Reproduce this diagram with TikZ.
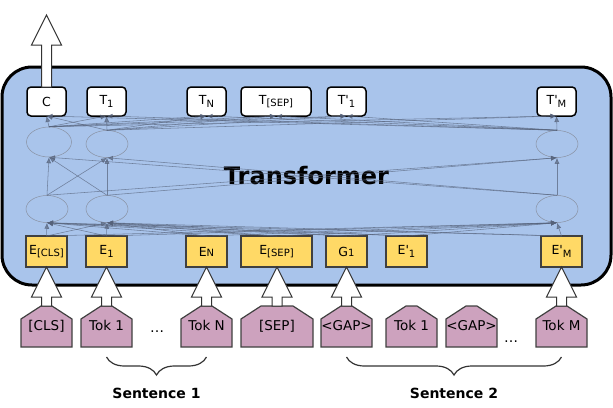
\documentclass[tikz,border=0pt]{standalone}
\usepackage{fontspec}
\setmainfont{DejaVu Sans}
\usetikzlibrary{shapes.geometric,positioning,calc,arrows.meta,backgrounds,decorations.pathreplacing}
\definecolor{tfblue}{HTML}{A9C4EB}
\definecolor{embyellow}{HTML}{FFD966}
\definecolor{tokpink}{HTML}{CDA2BE}
\definecolor{linkgray}{HTML}{56627A}
\newcommand\sub[1]{\raisebox{-0.35ex}{\fontsize{10}{10}\selectfont #1}}
\newcommand\sml[1]{{\fontsize{10}{10}\selectfont #1}}
\newcommand\prm{\textquotesingle}
\newcommand\fatarrow[2]{\draw[fat] let \p1=(#1), \p2=(#2) in
    (\x1-5pt,\y1) -- (\x1-5pt,\y2-30pt) -- (\x1-15pt,\y2-30pt) -- (\x1,\y2)
    -- (\x1+15pt,\y2-30pt) -- (\x1+5pt,\y2-30pt) -- (\x1+5pt,\y1) -- cycle;}

\begin{document}
\begin{tikzpicture}[x=1pt, y=-1pt,
        frame/.style={draw=black, line width=3pt, fill=tfblue, rounded corners=30pt, minimum width=609pt, minimum height=218pt, font=\fontsize{24}{24}\selectfont\bfseries},
        outbox/.style={draw=black, line width=1.5pt, fill=white, rounded corners=4pt, minimum width=39pt, minimum height=29pt, inner sep=0pt, outer sep=0pt, font=\fontsize{12.5}{12.5}\selectfont},
        embox/.style={draw=black!75, line width=1.2pt, fill=embyellow, minimum width=41pt, minimum height=31pt, inner sep=0pt, outer sep=0pt, font=\fontsize{12.5}{12.5}\selectfont},
        tok/.style={minimum width=51pt, minimum height=41pt, inner sep=0pt, outer sep=0pt, text height=9.5pt, text depth=2.5pt, font=\fontsize{13.5}{13.5}\selectfont},
        tokfill/.style={fill=tokpink, draw=black!75, line width=1.2pt},
        hid/.style={ellipse, draw=linkgray!70, line width=0.5pt, minimum width=42pt, minimum height=27pt, inner sep=0pt},
        link/.style={draw=linkgray, opacity=0.7, line width=0.55pt, -{Latex[length=6pt,width=5pt]}},
        fat/.style={draw=black!80, line width=1pt, fill=white},
        brc/.style={decorate, decoration={brace, mirror, amplitude=18pt}, draw=black!80, line width=1.2pt},
        lbl/.style={font=\fontsize{14}{14}\selectfont\bfseries}
    ]
        \useasboundingbox (0,0) rectangle (613,407);

        \node [outbox] (c) at (46.5,101.5) {C};
        \node [outbox, right=21pt of c] (ta) {T\sub{1}};
        \node [outbox, right=61pt of ta] (tn) {T\sub{N}};
        \node [outbox, minimum width=70pt, right=15pt of tn] (tsep) {T\sub{[SEP]}};
        \node [outbox, right=16pt of tsep] (tpa) {T\prm\sub{1}};
        \node [outbox, right=171pt of tpa] (tpm) {T\prm\sub{M}};

        \node [embox] (ecls) at (46.5,251.5) {E\sub{[CLS]}};
        \node [embox, right=19pt of ecls] (ea) {E\sub{1}};
        \node [embox, right=59pt of ea] (en) {E\sml{N}};
        \node [embox, minimum width=71pt, right=14pt of en] (esep) {E\sub{[SEP]}};
        \node [embox, right=14pt of esep] (ga) {G\sml{1}};
        \node [embox, right=19pt of ga] (epa) {E\prm\sub{1}};
        \node [embox, right=114pt of epa] (epm) {E\prm\sub{M}};

        \node [hid] (la) at (47,209) {};
        \node [hid] (lb) at (107,209) {};
        \node [hid] (lc) at (557,209) {};
        \node [hid, minimum width=45pt, minimum height=30pt] (ua) at (49,142) {};
        \node [hid] (ub) at (107,144) {};
        \node [hid] (uc) at (557,144) {};

        \node [tok] (cls) at (46.5,326.5) {[CLS]};
        \node [tok, right=9pt of cls] (tka) {Tok 1};
        \node [tok, right=49pt of tka] (tkn) {Tok N};
        \node [tok, minimum width=72pt, right=9pt of tkn] (sep) {[SEP]};
        \node [tok, right=8pt of sep] (gapa) {<GAP>};
        \node [tok, right=14pt of gapa] (tkb) {Tok 1};
        \node [tok, right=9pt of tkb] (gapb) {<GAP>};
        \node [tok, right=39pt of gapb] (tkm) {Tok M};

        \node [font=\fontsize{14}{14}\selectfont] (dotsa) at (157,332) {\dots};
        \node [font=\fontsize{14}{14}\selectfont] (dotsb) at (511,342) {\dots};

        \coordinate (out) at (46.5,15);

        \begin{scope}[on background layer]
            \node [frame] (tf) at (306.5,176) {Transformer};
            \foreach \k in {cls,tka,tkn,sep,gapa,tkb,gapb,tkm}
                \draw [tokfill] (\k.south west) -- ([yshift=-13pt]\k.north west) -- ([xshift=20pt]\k.north west)
                    -- ([xshift=-20pt]\k.north east) -- ([yshift=-13pt]\k.north east) -- (\k.south east) -- cycle;
        \end{scope}

        \foreach \e in {ecls,ea,en,esep,ga,epa,epm}
            \foreach \h in {la,lb,lc}
                \draw [link] (\e.north) -- (\h.south);
        \foreach \a in {la,lb,lc}
            \foreach \b in {ua,ub,uc}
                \draw [link] (\a.north) -- (\b.south);
        \foreach \a in {ua,ub,uc}
            \foreach \t in {c,ta,tn,tsep,tpa,tpm}
                \draw [link] (\a.north) -- (\t.south);

        \fatarrow{c.north}{out}
        \fatarrow{cls.north}{ecls.south}
        \fatarrow{tka.north}{ea.south}
        \fatarrow{tkn.north}{en.south}
        \fatarrow{sep.north}{esep.south}
        \fatarrow{gapa.north}{ga.south}
        \fatarrow{tkm.north}{epm.south}

        \draw [brc] ([yshift=-10pt]tka.south) -- ([yshift=-10pt]tkn.south) node [lbl, midway, below=27pt] (sa) {Sentence 1};
        \draw [brc] ([yshift=-10pt]gapa.south) -- ([yshift=-10pt]tkm.south) node [lbl, midway, below=27pt] (sb) {Sentence 2};
    \end{tikzpicture}
\end{document}
